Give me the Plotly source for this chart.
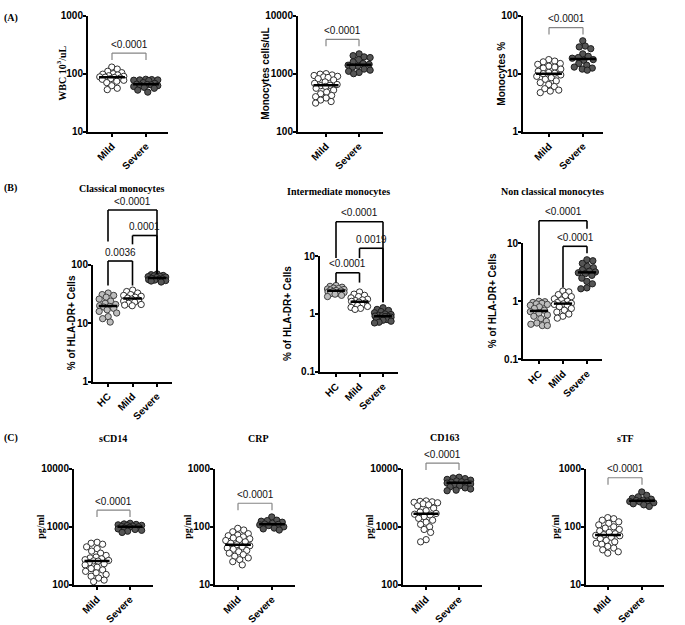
import numpy as np
import plotly.graph_objects as go

W, H = 685, 625

# ---------------- data ----------------
wbc_mild = [130, 120, 110, 104, 100, 98, 95, 92, 90, 88, 87, 86, 84, 82, 80, 77, 74, 70, 62, 56, 53]
wbc_severe = [80, 79, 78, 78, 77, 76, 70, 68, 66, 65, 64, 63, 62, 60, 58, 56, 52, 48]

mono_mild = [1000, 980, 950, 930, 900, 880, 860, 820, 780, 720, 680, 650, 630, 620, 600, 560, 520,
             480, 450, 420, 400, 380, 350, 330, 310]
mono_severe = [2200, 2050, 1950, 1900, 1750, 1600, 1500, 1450, 1400, 1350, 1300, 1200, 1150, 1100, 1050, 1000]

monop_mild = [17.5, 16.5, 16, 15, 14.5, 13.5, 13, 12.5, 12, 11, 10.5, 10.2, 10, 9.5, 9, 8.5, 8, 7.5, 7,
              6.5, 6, 5.5, 5.2, 5, 4.7]
monop_severe = [37, 30, 29, 27, 22, 20, 19, 18.5, 17.5, 17, 15, 14, 13, 12.5, 12, 11.5]

cls_hc = [33, 31, 30, 28, 26, 24, 22, 21, 20, 19.5, 19, 18, 17, 16, 15, 13, 12, 10.5]
cls_mild = [37, 35, 33, 31, 30, 29, 28, 27, 26, 25, 24, 23, 22, 21, 20.5, 20]
cls_severe = [70, 68, 66, 65, 64, 63, 62, 61, 59, 58, 57, 56, 55, 54, 53, 51]

int_hc = [3.1, 3.0, 2.9, 2.8, 2.75, 2.7, 2.65, 2.6, 2.55, 2.5, 2.45, 2.4, 2.35, 2.3, 2.25, 2.2, 2.1, 2.0]
int_mild = [2.4, 2.2, 2.1, 2.0, 1.9, 1.8, 1.75, 1.7, 1.65, 1.6, 1.55, 1.5, 1.45, 1.4, 1.35, 1.3, 1.25, 1.2]
int_severe = [1.28, 1.2, 1.15, 1.1, 1.05, 1.0, 0.98, 0.95, 0.93, 0.92, 0.91, 0.9, 0.88, 0.85, 0.82,
              0.8, 0.78, 0.75, 0.72, 0.7]

ncl_hc = [1.0, 0.98, 0.95, 0.92, 0.9, 0.88, 0.85, 0.8, 0.75, 0.7, 0.66, 0.62, 0.58, 0.55, 0.5, 0.45,
          0.42, 0.4, 0.38, 0.38]
ncl_mild = [1.5, 1.45, 1.3, 1.25, 1.2, 1.1, 1.05, 1.0, 0.95, 0.92, 0.9, 0.88, 0.85, 0.8, 0.75, 0.7,
            0.65, 0.6, 0.55, 0.51]
ncl_severe = [5.2, 5.0, 4.5, 4.0, 3.8, 3.5, 3.3, 3.2, 3.1, 3.0, 2.8, 2.5, 2.2, 2.0, 1.7, 1.64]

scd14_mild = [540, 520, 500, 450, 420, 380, 350, 320, 300, 290, 280, 270, 262, 258, 255, 240, 230, 220,
              200, 190, 180, 170, 160, 150, 140, 130, 120, 113]
scd14_severe = [1150, 1120, 1100, 1080, 1060, 1050, 1030, 1010, 1000, 980, 950, 920, 900, 870, 840, 800]

crp_mild = [94, 88, 82, 76, 72, 70, 67, 64, 62, 60, 58, 55, 52, 49, 47, 45, 43, 41, 39, 37, 35, 33,
            31, 29, 27, 25, 22]
crp_severe = [148, 130, 128, 125, 120, 115, 112, 110, 108, 105, 100, 95, 92, 88]

cd163_mild = [2800, 2750, 2700, 2650, 2600, 2500, 2400, 2300, 2100, 1900, 1800, 1700, 1650, 1600, 1500,
              1400, 1300, 1200, 1100, 1000, 900, 800, 600, 550]
cd163_severe = [7200, 7000, 6800, 6600, 6400, 6200, 6000, 5900, 5800, 5700, 5500, 5300, 5100, 4900,
                4700, 4500, 4300, 4200]

stf_mild = [144, 138, 130, 122, 115, 108, 100, 95, 90, 85, 80, 76, 73, 71, 70, 66, 62, 58, 55, 52, 50,
            46, 43, 40, 37, 35]
stf_severe = [400, 350, 330, 310, 300, 290, 285, 278, 274, 270, 260, 250, 240, 225]

cats2 = ["Mild", "Severe"]
cats3 = ["HC", "Mild", "Severe"]

# ---------------- styles / layout ----------------
STY = {"HC": ("#bdbdbd", "#404040"), "Mild": ("#ffffff", "#303030"), "Severe": ("#555555", "#1e1e1e")}
SANS = "Liberation Sans"
SERIF = "Liberation Serif"

panels = [
    dict(x0=88, x1=168, yt=10, yb=128, cx=[112, 146], lr=(1, 3), cats=cats2,
         groups=[wbc_mild, wbc_severe], ytitle="WBC 10<sup>3</sup>/uL", yfont=SERIF, ytx=61,
         br=[(0, 1, 48, None, None, "<0.0001")], kind="A"),
    dict(x0=298, x1=383, yt=10, yb=128, cx=[326, 359], lr=(2, 4), cats=cats2,
         groups=[mono_mild, mono_severe], ytitle="Monocytes cells/uL", yfont=SANS, ytx=266,
         br=[(0, 1, 34, None, None, "<0.0001")], kind="A"),
    dict(x0=523, x1=603, yt=10, yb=128, cx=[549, 583], lr=(0, 2), cats=cats2,
         groups=[monop_mild, monop_severe], ytitle="Monocytes %", yfont=SANS, ytx=502,
         br=[(0, 1, 22, None, None, "<0.0001")], kind="A"),
    dict(x0=93, x1=172, yt=264, yb=383, cx=[108, 133, 157], lr=(0, 2), cats=cats3,
         groups=[cls_hc, cls_mild, cls_severe], ytitle="% of HLA-DR+ Cells", yfont=SANS, ytx=71,
         br=[(0, 2, 208, 240, 273, "<0.0001"), (1, 2, 234, 243, 273, "0.0001"),
             (0, 1, 260, 285, 285, "0.0036")], kind="B",
         title="Classical monocytes", tx=121, ty=186),
    dict(x0=320, x1=398, yt=255, yb=373, cx=[336, 359, 383], lr=(-1, 1), cats=cats3,
         groups=[int_hc, int_mild, int_severe], ytitle="% of HLA-DR+ Cells", yfont=SANS, ytx=288,
         br=[(0, 2, 220, 257, 302, "<0.0001"), (1, 2, 247, 257, 302, "0.0019"),
             (0, 1, 272, 282, 282, "<0.0001")], kind="B",
         title="Intermediate monocytes", tx=338, ty=189),
    dict(x0=523, x1=602, yt=242, yb=360, cx=[539, 562, 587], lr=(-1, 1), cats=cats3,
         groups=[ncl_hc, ncl_mild, ncl_severe], ytitle="% of HLA-DR+ Cells", yfont=SANS, ytx=492,
         br=[(0, 2, 219, 295, 227, "<0.0001"), (1, 2, 245, 287, 252, "<0.0001")], kind="B",
         title="Non classical monocytes", tx=552, ty=189),
    dict(x0=74, x1=153, yt=472, yb=590, cx=[97, 130], lr=(2, 4), cats=cats2,
         groups=[scd14_mild, scd14_severe], ytitle="pg/ml", yfont=SERIF, ytx=41,
         br=[(0, 1, 514, None, None, "<0.0001")], kind="C", title="sCD14", tx=113, ty=441),
    dict(x0=215, x1=295, yt=472, yb=590, cx=[238, 272], lr=(1, 3), cats=cats2,
         groups=[crp_mild, crp_severe], ytitle="pg/ml", yfont=SERIF, ytx=188,
         br=[(0, 1, 507, None, None, "<0.0001")], kind="C", title="CRP", tx=258, ty=441),
    dict(x0=403, x1=482, yt=472, yb=590, cx=[426, 459], lr=(2, 4), cats=cats2,
         groups=[cd163_mild, cd163_severe], ytitle="pg/ml", yfont=SERIF, ytx=370,
         br=[(0, 1, 466, None, None, "<0.0001")], kind="C", title="CD163", tx=444, ty=440),
    dict(x0=586, x1=664, yt=472, yb=590, cx=[608, 642], lr=(1, 3), cats=cats2,
         groups=[stf_mild, stf_severe], ytitle="pg/ml", yfont=SERIF, ytx=556,
         br=[(0, 1, 481, None, None, "<0.0001")], kind="C", title="sTF", tx=625, ty=441),
]


def swarm(ypx, d, maxw):
    order = np.argsort(ypx)
    placed = []
    offs = np.zeros(len(ypx))
    cand = np.arange(-maxw, maxw + 0.01, 0.5)
    cand = cand[np.argsort(np.abs(cand) + 1e-3 * (cand < 0))]
    for i in order:
        y = ypx[i]
        best, bestd = 0.0, -1
        for o in cand:
            if placed:
                md = min(np.hypot(o - ox, y - oy) for ox, oy in placed)
            else:
                md = 1e9
            if md >= d:
                best = o
                break
            if md > bestd:
                bestd, best = md, o
        placed.append((best, y))
        offs[i] = best
    return offs


fig = go.Figure()
shapes, annos = [], []
layout = {}

for n, p in enumerate(panels, start=1):
    xa = "x" if n == 1 else f"x{n}"
    ya = "y" if n == 1 else f"y{n}"
    ncat = len(p["cx"])
    k = (p["cx"][-1] - p["cx"][0]) / (ncat - 1)
    xr = [-(p["cx"][0] - p["x0"]) / k, (ncat - 1) + (p["x1"] - p["cx"][-1]) / k]
    lr0, lr1 = p["lr"]

    def ypx(v, p=p, lr0=lr0, lr1=lr1):
        return p["yb"] - (np.log10(v) - lr0) / (lr1 - lr0) * (p["yb"] - p["yt"])

    maxw = 0.36 * k
    for gi, vals in enumerate(p["groups"]):
        g = p["cats"][gi]
        vals = np.array(vals, float)
        offs = swarm(ypx(vals), 5.8, maxw)
        fill, edge = STY[g]
        fig.add_trace(go.Scatter(
            x=gi + offs / k, y=vals, mode="markers", xaxis=xa, yaxis=ya,
            marker=dict(size=6.3, color=fill, line=dict(color=edge, width=1)),
            cliponaxis=False, hoverinfo="skip", showlegend=False))
        med = float(np.median(vals))
        fig.add_trace(go.Scatter(
            x=[gi - 0.38, gi + 0.38], y=[med, med], mode="lines", xaxis=xa, yaxis=ya,
            line=dict(color="black", width=2.5), hoverinfo="skip", showlegend=False))

    tickv = [10.0 ** e for e in range(lr0, lr1 + 1)]
    axstyle = dict(showline=True, linecolor="black", linewidth=2, ticks="outside", ticklen=3,
                   tickwidth=2, tickcolor="black", showgrid=False, zeroline=False,
                   tickfont=dict(family=SANS, size=10, color="black", weight="bold"))
    layout["xaxis" if n == 1 else f"xaxis{n}"] = dict(
        domain=[p["x0"] / W, p["x1"] / W], anchor=ya, range=xr,
        tickvals=list(range(ncat)), ticktext=p["cats"], tickangle=-45, **axstyle)
    layout["yaxis" if n == 1 else f"yaxis{n}"] = dict(
        domain=[1 - p["yb"] / H, 1 - p["yt"] / H], anchor=xa, type="log", range=[lr0, lr1],
        tickvals=tickv, ticktext=[f"{v:g}" for v in tickv], ticklabelstandoff=-2, **axstyle)

    # brackets
    for (i, j, top, lb, rb, txt) in p["br"]:
        if p["kind"] == "B":
            col, lw = "black", 1.6
        else:
            col, lw = "#858585", 1.2
            lb = rb = top + 7
        for (xx0, yy0, xx1, yy1) in [(i, top, j, top), (i, top, i, lb), (j, top, j, rb)]:
            shapes.append(dict(type="line", xref=xa, yref="paper", x0=xx0, x1=xx1,
                               y0=1 - yy0 / H, y1=1 - yy1 / H, line=dict(color=col, width=lw)))
        annos.append(dict(xref=xa, yref="paper", x=(i + j) / 2, y=1 - (top - 9) / H, text=txt,
                          showarrow=False, xanchor="center", yanchor="middle",
                          font=dict(family=SANS, size=10, color="#111111")))
    # y title
    annos.append(dict(xref="paper", yref="paper", x=p["ytx"] / W, y=1 - ((p["yt"] + p["yb"]) / 2) / H,
                      text=p["ytitle"], textangle=-90, showarrow=False, xanchor="center",
                      yanchor="middle", font=dict(family=p["yfont"], size=10, color="black",
                                                  weight="bold")))
    if "title" in p:
        annos.append(dict(xref="paper", yref="paper", x=p["tx"] / W, y=1 - p["ty"] / H,
                          text=p["title"], showarrow=False, xanchor="center", yanchor="middle",
                          font=dict(family=SERIF, size=10, color="black", weight="bold")))

for lab, yy in [("(A)", 12), ("(B)", 186), ("(C)", 440)]:
    annos.append(dict(xref="paper", yref="paper", x=2 / W, y=1 - yy / H, text=lab, showarrow=False,
                      xanchor="left", yanchor="middle",
                      font=dict(family=SERIF, size=10, color="black", weight="bold")))

fig.update_layout(width=W, height=H, autosize=False, margin=dict(l=0, r=0, t=0, b=0),
                  paper_bgcolor="white", plot_bgcolor="white", shapes=shapes, annotations=annos,
                  **layout)
fig.write_html("out.html", config={"displayModeBar": False},
               post_script="document.body.style.margin='0';document.body.style.overflow='hidden';")
